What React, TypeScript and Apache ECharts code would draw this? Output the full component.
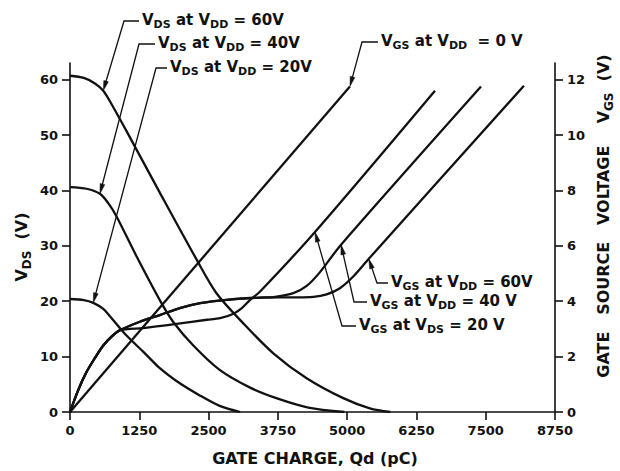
import React, { useEffect, useRef } from "react";
import * as echarts from "echarts";

// ---- axis ticks ----
const chargeTicks = [0, 1250, 2500, 3750, 5000, 6250, 7500, 8750];
const vdsTicks = [0, 10, 20, 30, 40, 50, 60];
const vgsTicks = [0, 2, 4, 6, 8, 10, 12];

// ---- V_DS curves (left axis, volts) vs gate charge (pC) ----
const vds60Q = [0, 250, 450, 600, 720, 1020, 1620, 2285, 2646, 3127, 3668, 4269, 4930, 5410, 5780];
const vds60V = [60.7, 60.3, 59.3, 58.0, 56.1, 50.7, 39.6, 27.5, 21.4, 16.0, 10.6, 6.1, 2.5, 0.66, 0];

const vds40Q = [0, 300, 540, 690, 840, 1200, 1620, 1860, 2225, 2700, 3250, 3750, 4300, 4950];
const vds40V = [40.6, 40.3, 39.4, 37.7, 35.3, 28.1, 20.2, 16.3, 12.0, 7.6, 4.4, 2.4, 0.8, 0];

const vds20Q = [0, 250, 420, 600, 720, 1020, 1320, 1620, 1920, 2340, 2700, 3070];
const vds20V = [20.4, 20.2, 19.7, 18.6, 17.3, 13.8, 10.9, 7.9, 5.6, 3.0, 1.1, 0];

// ---- V_GS curves (right axis, volts) ----
const vgs0Q = [0, 5050];
const vgs0V = [0, 11.75];

const vgsVds20Q = [0, 150, 300, 450, 600, 750, 900, 1320, 1920, 2470, 2710, 2950, 3100, 3250, 3430, 4420, 6585];
const vgsVds20V = [0, 0.8, 1.45, 1.95, 2.4, 2.72, 2.95, 3.03, 3.18, 3.33, 3.39, 3.55, 3.75, 4.05, 4.35, 6.5, 11.6];

const vgsVdd40Q = [0, 150, 300, 450, 600, 750, 900, 1260, 1620, 1980, 2350, 2830, 3430, 3670, 4030, 4270, 4510, 4890, 7415];
const vgsVdd40V = [0, 0.8, 1.45, 1.95, 2.4, 2.72, 2.95, 3.26, 3.5, 3.75, 3.93, 4.05, 4.13, 4.15, 4.29, 4.55, 5.05, 6.04, 11.75];

const vgsVdd60Q = [0, 150, 300, 450, 600, 750, 900, 1260, 1620, 1980, 2350, 2830, 3430, 4030, 4390, 4630, 4870, 5110, 5390, 8190];
const vgsVdd60V = [0, 0.8, 1.45, 1.95, 2.4, 2.72, 2.95, 3.26, 3.5, 3.75, 3.93, 4.05, 4.13, 4.14, 4.16, 4.25, 4.47, 4.89, 5.53, 11.78];

const FONT = "'DejaVu Sans', 'Liberation Sans', sans-serif";
const INK = "#111";

const zip = (xs: number[], ys: number[]) => xs.map((x, i) => [x, ys[i]]);

const richStyle = {
  m: { fontSize: 15, fontWeight: "bold", lineHeight: 16, verticalAlign: "top", fontFamily: FONT, fill: INK, color: INK },
  s: { fontSize: 11, fontWeight: "bold", lineHeight: 11, padding: [7, 0, 0, 0], verticalAlign: "top", fontFamily: FONT, fill: INK, color: INK },
};

type Ann = {
  text: string;
  tip: number[]; // data coords
  axis: number; // 0 left, 1 right
  elbow: number[];
  end: number[];
};

const annotations: Ann[] = [
  { text: "{m|V}{s|DS}{m| at V}{s|DD}{m| = 60V}", tip: [600, 58.0], axis: 0, elbow: [124, 21], end: [139, 21] },
  { text: "{m|V}{s|DS}{m| at V}{s|DD}{m| = 40V}", tip: [540, 39.4], axis: 0, elbow: [139, 44], end: [155, 44] },
  { text: "{m|V}{s|DS}{m| at V}{s|DD}{m| = 20V}", tip: [420, 19.7], axis: 0, elbow: [156, 68], end: [167, 68] },
  { text: "{m|V}{s|GS}{m| at V}{s|DD}{m|  = 0 V}", tip: [5050, 11.75], axis: 1, elbow: [362, 42], end: [378, 42] },
  { text: "{m|V}{s|GS}{m| at V}{s|DD}{m| = 60V}", tip: [5390, 5.53], axis: 1, elbow: [377, 283], end: [388, 283] },
  { text: "{m|V}{s|GS}{m| at V}{s|DD}{m| = 40 V}", tip: [4890, 6.04], axis: 1, elbow: [354, 302], end: [367, 302] },
  { text: "{m|V}{s|GS}{m| at V}{s|DS}{m| = 20 V}", tip: [4420, 6.5], axis: 1, elbow: [342, 326], end: [356, 326] },
];

export default function App() {
  const ref = useRef<HTMLDivElement>(null);

  useEffect(() => {
    const chart = echarts.init(ref.current!, null, { renderer: "svg" });

    const line = (name: string, data: number[][], yAxisIndex: number, smooth: number | boolean) => ({
      type: "line",
      name,
      data,
      yAxisIndex,
      smooth,
      showSymbol: false,
      symbol: "none",
      silent: true,
      lineStyle: { color: INK, width: 2.3 },
    });

    const axisCommon = {
      axisLine: { show: true, onZero: false, lineStyle: { color: INK, width: 1.6 } },
      axisTick: { show: true, inside: false, length: 8, lineStyle: { color: INK, width: 1.6 } },
      splitLine: { show: false },
    };
    const labelCommon = {
      color: INK,
      fontSize: 13,
      fontWeight: "bold",
      fontFamily: FONT,
      formatter: (v: number) => String(v),
    };

    chart.setOption({
      animation: false,
      grid: { left: 70, right: 65, top: 63, bottom: 59 },
      xAxis: {
        type: "value",
        min: 0,
        max: 8750,
        interval: 1250,
        ...axisCommon,
        axisTick: { ...axisCommon.axisTick, customValues: chargeTicks },
        axisLabel: { ...labelCommon, margin: 12, customValues: chargeTicks },
      },
      yAxis: [
        {
          type: "value",
          min: 0,
          max: 63,
          position: "left",
          ...axisCommon,
          axisTick: { ...axisCommon.axisTick, customValues: vdsTicks },
          axisLabel: { ...labelCommon, margin: 12, customValues: vdsTicks },
        },
        {
          type: "value",
          min: 0,
          max: 12.6,
          position: "right",
          ...axisCommon,
          axisTick: { ...axisCommon.axisTick, customValues: vgsTicks },
          axisLabel: { ...labelCommon, margin: 12, customValues: vgsTicks },
        },
      ],
      series: [
        line("VDS @ VDD=60V", zip(vds60Q, vds60V), 0, 0.3),
        line("VDS @ VDD=40V", zip(vds40Q, vds40V), 0, 0.3),
        line("VDS @ VDD=20V", zip(vds20Q, vds20V), 0, 0.3),
        line("VGS @ VDD=0V", zip(vgs0Q, vgs0V), 1, false),
        line("VGS @ VDS=20V", zip(vgsVds20Q, vgsVds20V), 1, 0.3),
        line("VGS @ VDD=40V", zip(vgsVdd40Q, vgsVdd40V), 1, 0.3),
        line("VGS @ VDD=60V", zip(vgsVdd60Q, vgsVdd60V), 1, 0.3),
      ],
    });

    const graphics: any[] = [];
    annotations.forEach((a) => {
      const tip = chart.convertToPixel({ xAxisIndex: 0, yAxisIndex: a.axis }, a.tip) as number[];
      const [ex, ey] = a.elbow;
      const dx = tip[0] - ex;
      const dy = tip[1] - ey;
      const len = Math.sqrt(dx * dx + dy * dy);
      const ux = dx / len;
      const uy = dy / len;
      const L = 10;
      const W = 2.4;
      const bx = tip[0] - ux * L;
      const by = tip[1] - uy * L;
      graphics.push({
        type: "polyline",
        silent: true,
        shape: { points: [a.end, a.elbow, [bx + ux * 2, by + uy * 2]] },
        style: { stroke: INK, lineWidth: 1.3, fill: "none" },
      });
      graphics.push({
        type: "polygon",
        silent: true,
        shape: {
          points: [
            [tip[0], tip[1]],
            [bx - uy * W, by + ux * W],
            [bx + uy * W, by - ux * W],
          ],
        },
        style: { fill: INK, stroke: INK, lineWidth: 0.5 },
      });
      graphics.push({
        type: "text",
        silent: true,
        x: a.end[0] + 3,
        y: a.end[1] - 9,
        style: { text: a.text, rich: richStyle, fill: INK },
      });
    });

    // axis titles
    const titleRich = {
      m: { fontSize: 16, fontWeight: "bold", lineHeight: 18, verticalAlign: "top", fontFamily: FONT, fill: INK },
      s: { fontSize: 12, fontWeight: "bold", lineHeight: 12, padding: [8, 0, 0, 0], verticalAlign: "top", fontFamily: FONT, fill: INK },
    };
    graphics.push({
      type: "text",
      silent: true,
      x: 22,
      y: 247,
      rotation: Math.PI / 2,
      style: {
        text: "{m|V}{s|DS}{m|  (V)}",
        rich: titleRich,
        align: "center",
        verticalAlign: "middle",
      },
    });
    graphics.push({
      type: "text",
      silent: true,
      x: 604,
      y: 216,
      rotation: Math.PI / 2,
      style: {
        text: "{m|GATE   SOURCE   VOLTAGE    V}{s|GS}{m|  (V)}",
        rich: titleRich,
        align: "center",
        verticalAlign: "middle",
      },
    });
    graphics.push({
      type: "text",
      silent: true,
      x: 315,
      y: 458,
      style: {
        text: "GATE CHARGE, Qd (pC)",
        fontSize: 16,
        fontWeight: "bold",
        fontFamily: FONT,
        fill: INK,
        align: "center",
        verticalAlign: "middle",
      },
    });

    chart.setOption({ graphic: graphics });

    return () => chart.dispose();
  }, []);

  return (
    <div
      ref={ref}
      style={{ position: "fixed", left: 0, top: 0, width: 620, height: 471, background: "#fff" }}
    />
  );
}
